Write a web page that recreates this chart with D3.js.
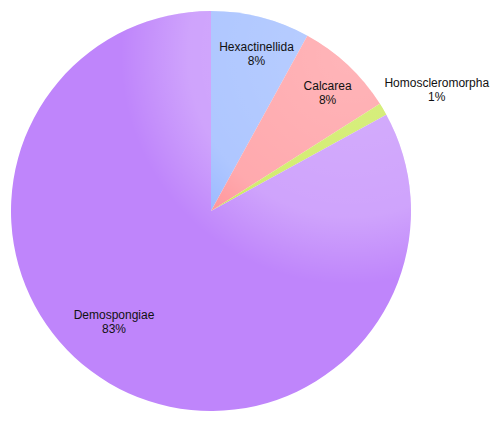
<!DOCTYPE html>
<html>
<head>
<meta charset="utf-8">
<script src="https://cdn.jsdelivr.net/npm/d3@7"></script>
<style>
  body { margin: 0; background: #fff; }
  text { font-family: "Liberation Sans", Arial, sans-serif; font-size: 12px; fill: #111; }
</style>
</head>
<body>
<div id="chart"></div>
<script>
var categories = ["Hexactinellida", "Calcarea", "Homoscleromorpha", "Demospongiae"];
var shares = [8, 8, 1, 83];
var colors = ["#94b4ff", "#ff8d93", "#c4e640", "#bf85fb"];

window.onload = function(){
	var w = 500, h = 423;
	var cx = 211, cy = 211, r = 200;

	var svg = d3.select("#chart")
		.append("svg")
		.attr("width", w)
		.attr("height", h);

	var defs = svg.append("defs");
	var glow = defs.append("radialGradient")
		.attr("id", "shine")
		.attr("gradientUnits", "userSpaceOnUse")
		.attr("cx", 350).attr("cy", 55).attr("r", 270);
	glow.append("stop").attr("offset", "0").attr("stop-color", "#fff").attr("stop-opacity", 0.35);
	glow.append("stop").attr("offset", "0.6").attr("stop-color", "#fff").attr("stop-opacity", 0.25);
	glow.append("stop").attr("offset", "0.85").attr("stop-color", "#fff").attr("stop-opacity", 0);

	var data = categories.map(function(c, i){ return {name: c, value: shares[i], color: colors[i]}; });

	var pie = d3.pie().sort(null).value(function(d){ return d.value; });
	var arc = d3.arc().innerRadius(0).outerRadius(r);
	var arcs = pie(data);

	var g = svg.append("g").attr("transform", "translate(" + cx + "," + cy + ")");

	g.selectAll("path.slice")
		.data(arcs)
		.enter().append("path")
			.attr("class", "slice")
			.attr("d", arc)
			.attr("fill", function(d){ return d.data.color; });

	// light sheen over the whole disc
	svg.append("circle")
		.attr("cx", cx).attr("cy", cy).attr("r", r)
		.attr("fill", "url(#shine)");

	// labels: inside for big slices, pushed out for tiny ones
	var lg = svg.append("g").attr("transform", "translate(" + cx + "," + cy + ")");
	var labelArc = d3.arc().innerRadius(163).outerRadius(163);
	var outArc = d3.arc().innerRadius(260).outerRadius(260);
	var nudge = { "Demospongiae": [-14, -30], "Homoscleromorpha": [2, 10] };

	var labels = lg.selectAll("text.lbl")
		.data(arcs)
		.enter().append("text")
			.attr("class", "lbl")
			.attr("text-anchor", "middle")
			.attr("transform", function(d){
				var p = (d.endAngle - d.startAngle < 0.1 ? outArc : labelArc).centroid(d);
				var n = nudge[d.data.name] || [5, 0];
				return "translate(" + (p[0] + n[0]) + "," + (p[1] + n[1]) + ")";
			});
	labels.append("tspan").attr("x", 0).attr("y", -2).text(function(d){ return d.data.name; });
	labels.append("tspan").attr("x", 0).attr("y", 12).text(function(d){ return d.data.value + "%"; });
}
</script>
</body>
</html>
